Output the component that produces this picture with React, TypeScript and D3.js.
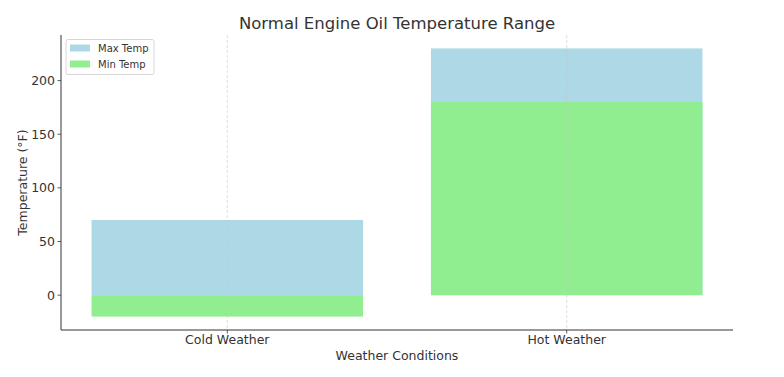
import React from "react";
import * as d3 from "d3";

const categories = ["Cold Weather", "Hot Weather"];
const maxTemp = [70, 230];
const minTemp = [-20, 180];
const yTicks = [0, 50, 100, 150, 200];
const seriesNames = ["Max Temp", "Min Temp"];
const seriesColors = ["#ADD8E6", "#90EE90"];

const W = 784, H = 377;
const left = 61, right = 733, top = 35, bottom = 330;

export default function App() {
  const x = d3.scaleLinear().domain([-0.49, 1.49]).range([left, right]);
  const y = d3.scaleLinear().domain([-32.5, 242.5]).range([bottom, top]);
  const bw = x(0.4) - x(0);
  const font = "DejaVu Sans, sans-serif";
  const txt = "#333";
  return (
    <svg width={W} height={H} style={{ position: "absolute", left: 0, top: 0, background: "#fff" }} fontFamily={font}>
      {categories.map((c, i) => (
        <rect key={"max" + i} x={x(i) - bw} width={bw * 2} y={y(Math.max(maxTemp[i], 0))} height={Math.abs(y(maxTemp[i]) - y(0))} fill={seriesColors[0]} />
      ))}
      {categories.map((c, i) => (
        <rect key={"min" + i} x={x(i) - bw} width={bw * 2} y={y(Math.max(minTemp[i], 0))} height={Math.abs(y(minTemp[i]) - y(0))} fill={seriesColors[1]} />
      ))}
      {categories.map((c, i) => (
        <line key={"g" + i} x1={x(i)} x2={x(i)} y1={top} y2={bottom} stroke="#c8c8c8" strokeWidth={0.6} strokeDasharray="3,2" />
      ))}
      <line x1={left} x2={left} y1={top} y2={bottom} stroke="#333" strokeWidth={1} />
      <line x1={left} x2={right} y1={bottom} y2={bottom} stroke="#333" strokeWidth={1} />
      {yTicks.map((t) => (
        <g key={t}>
          <line x1={left - 3.5} x2={left} y1={y(t)} y2={y(t)} stroke="#333" strokeWidth={0.8} />
          <text x={left - 6} y={y(t)} dy="0.35em" textAnchor="end" fontSize={12.5} fill={txt}>{t}</text>
        </g>
      ))}
      {categories.map((c, i) => (
        <g key={"xt" + i}>
          <line x1={x(i)} x2={x(i)} y1={bottom} y2={bottom + 3.5} stroke="#333" strokeWidth={0.8} />
          <text x={x(i)} y={bottom + 14} textAnchor="middle" fontSize={12.5} fill={txt}>{c}</text>
        </g>
      ))}
      <text x={(left + right) / 2} y={360} textAnchor="middle" fontSize={12.5} fill={txt}>Weather Conditions</text>
      <text transform={`translate(27,${(top + bottom) / 2}) rotate(-90)`} textAnchor="middle" fontSize={12.5} fill={txt}>Temperature (°F)</text>
      <text x={(left + right) / 2} y={29} textAnchor="middle" fontSize={16.5} fill={txt}>Normal Engine Oil Temperature Range</text>
      <g>
        <rect x={66} y={39.5} width={88} height={35} fill="#fff" fillOpacity={0.8} stroke="#ccc" strokeWidth={0.8} rx={2} />
        {seriesNames.map((s, i) => (
          <g key={s}>
            <rect x={70} y={44.5 + i * 16} width={20} height={7} fill={seriesColors[i]} />
            <text x={98} y={48 + i * 16} dy="0.35em" fontSize={10} fill={txt}>{s}</text>
          </g>
        ))}
      </g>
    </svg>
  );
}
